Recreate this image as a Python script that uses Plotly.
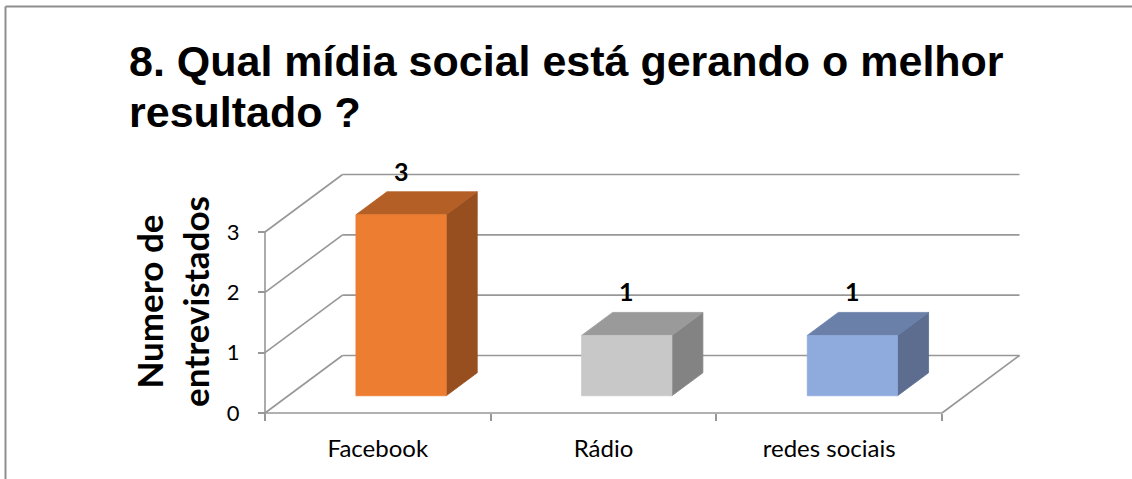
import plotly.graph_objects as go

# ---------------- data ----------------
categories = ["Facebook", "Rádio", "redes sociais"]
values = [3, 1, 1]
y_ticks = [0, 1, 2, 3]
y_max = 3
front_colors = ["#ED7D31", "#C8C8C8", "#8FAADC"]
top_colors = ["#B45F26", "#9A9A9A", "#6B80A8"]
side_colors = ["#974F1F", "#838383", "#5C6D90"]
title_lines = ["8. Qual mídia social está gerando o melhor", "resultado ?"]
y_title_lines = ["Numero de", "entrevistados"]

# ---------------- geometry (oblique 3-D projection) ----------------
W, H = 1132, 479
X0PX, Y0PX = 265.0, 413.0          # front-left-bottom corner in pixels
SX = 677.0 / 3                     # pixels per category
SY = 181.0 / 3                     # pixels per value unit
DX = 77.5 / SX                     # full depth offset in x data units
DY = 57.5 / SY                     # full depth offset in y data units
BAR_W = 0.4
D0, D1 = 0.3, 0.7                  # bar depth span (fraction of floor depth)
PL, PR, PT, PB = 250.0, 1040.0, 160.0, 425.0   # plot area in pixels
GRID = "#979797"

n = len(categories)
xr = [-0.5 - (X0PX - PL) / SX, -0.5 + (PR - X0PX) / SX]
yr = [-(PB - Y0PX) / SY, (Y0PX - PT) / SY]


def P(x, y, d):
    return x + d * DX, y + d * DY


def pxx(px):
    return (px - PL) / (PR - PL)


def pxy(py):
    return (PB - py) / (PB - PT)


fig = go.Figure()

# walls / floor lines
gx, gy = [], []


def seg(a, b):
    gx.extend([a[0], b[0], None])
    gy.extend([a[1], b[1], None])


left, right = -0.5, n - 0.5
for v in y_ticks:
    seg(P(left, v, 0), P(left, v, 1))       # side wall diagonal
    seg(P(left, v, 1), P(right, v, 1))      # back wall gridline
seg(P(left, 0, 0), P(left, y_max, 0))       # front vertical axis
seg(P(left, 0, 0), P(right, 0, 0))          # floor front edge
seg(P(right, 0, 0), P(right, 0, 1))         # floor right edge
fig.add_trace(go.Scatter(x=gx, y=gy, mode="lines", line=dict(color=GRID, width=1.6),
                         hoverinfo="skip", showlegend=False))

# bars
for i, (v, cf, ct, cs) in enumerate(zip(values, front_colors, top_colors, side_colors)):
    x0, x1 = i - BAR_W / 2, i + BAR_W / 2
    faces = [
        ([P(x1, 0, D0), P(x1, 0, D1), P(x1, v, D1), P(x1, v, D0)], cs),
        ([P(x0, v, D0), P(x1, v, D0), P(x1, v, D1), P(x0, v, D1)], ct),
        ([P(x0, 0, D0), P(x1, 0, D0), P(x1, v, D0), P(x0, v, D0)], cf),
    ]
    for pts, col in faces:
        xs = [p[0] for p in pts] + [pts[0][0]]
        ys = [p[1] for p in pts] + [pts[0][1]]
        fig.add_trace(go.Scatter(x=xs, y=ys, mode="lines", fill="toself", fillcolor=col,
                                 line=dict(color=col, width=0.8), hoverinfo="skip",
                                 showlegend=False))

# data labels
for i, v in enumerate(values):
    lx, ly = P(i, v, D1)
    fig.add_annotation(x=i + D0 * DX, y=ly, text=str(v), showarrow=False,
                       xanchor="center", yanchor="middle", yshift=21,
                       font=dict(family="Lato", size=25, color="#000000", weight="bold"))

# title lines
fig.add_annotation(xref="paper", yref="paper", x=pxx(127), y=pxy(35), text=title_lines[0],
                   showarrow=False, xanchor="left", yanchor="top",
                   font=dict(family="Liberation Sans", size=43, color="#000000", weight="bold"))
fig.add_annotation(xref="paper", yref="paper", x=pxx(127), y=pxy(86), text=title_lines[1],
                   showarrow=False, xanchor="left", yanchor="top",
                   font=dict(family="Liberation Sans", size=43, color="#000000", weight="bold"))

# y axis title
fig.add_annotation(xref="paper", yref="paper", x=pxx(172), y=pxy(302),
                   text="<br>".join(y_title_lines), textangle=-90, showarrow=False,
                   xanchor="center", yanchor="middle",
                   font=dict(family="Lato", size=35, color="#000000", weight="bold"))

# chart border (top and left)
fig.add_shape(type="line", xref="paper", yref="paper", x0=pxx(5.5), x1=pxx(1132),
              y0=pxy(6.5), y1=pxy(6.5), line=dict(color="#8E8E8E", width=2))
fig.add_shape(type="line", xref="paper", yref="paper", x0=pxx(5.5), x1=pxx(5.5),
              y0=pxy(6.5), y1=pxy(479), line=dict(color="#8E8E8E", width=2))

fig.update_layout(
    width=W, height=H,
    margin=dict(l=PL, r=W - PR, t=PT, b=H - PB, pad=0),
    paper_bgcolor="white", plot_bgcolor="white",
    showlegend=False,
    xaxis=dict(range=xr, domain=[0, 1], anchor="free", position=pxy(Y0PX),
               tickmode="array", tickvals=list(range(n)), ticktext=categories,
               ticks="outside", ticklen=7, tickcolor="rgba(0,0,0,0)",
               minor=dict(tickmode="array", tickvals=[k - 0.5 for k in range(n + 1)],
                          ticks="outside", ticklen=7, tickcolor=GRID, tickwidth=1.6,
                          showgrid=False),
               showgrid=False, zeroline=False, showline=False, fixedrange=True,
               ticklabelstandoff=7,
               tickfont=dict(family="Lato", size=24, color="#000000")),
    yaxis=dict(range=yr, domain=[0, 1], anchor="free", position=pxx(X0PX),
               tickmode="array", tickvals=y_ticks, ticks="outside", ticklen=7,
               tickcolor=GRID, tickwidth=1.6, showgrid=False, zeroline=False,
               showline=False, fixedrange=True, ticklabelstandoff=14,
               tickfont=dict(family="Lato", size=22, color="#000000")),
)

fig.write_html("out.html")
